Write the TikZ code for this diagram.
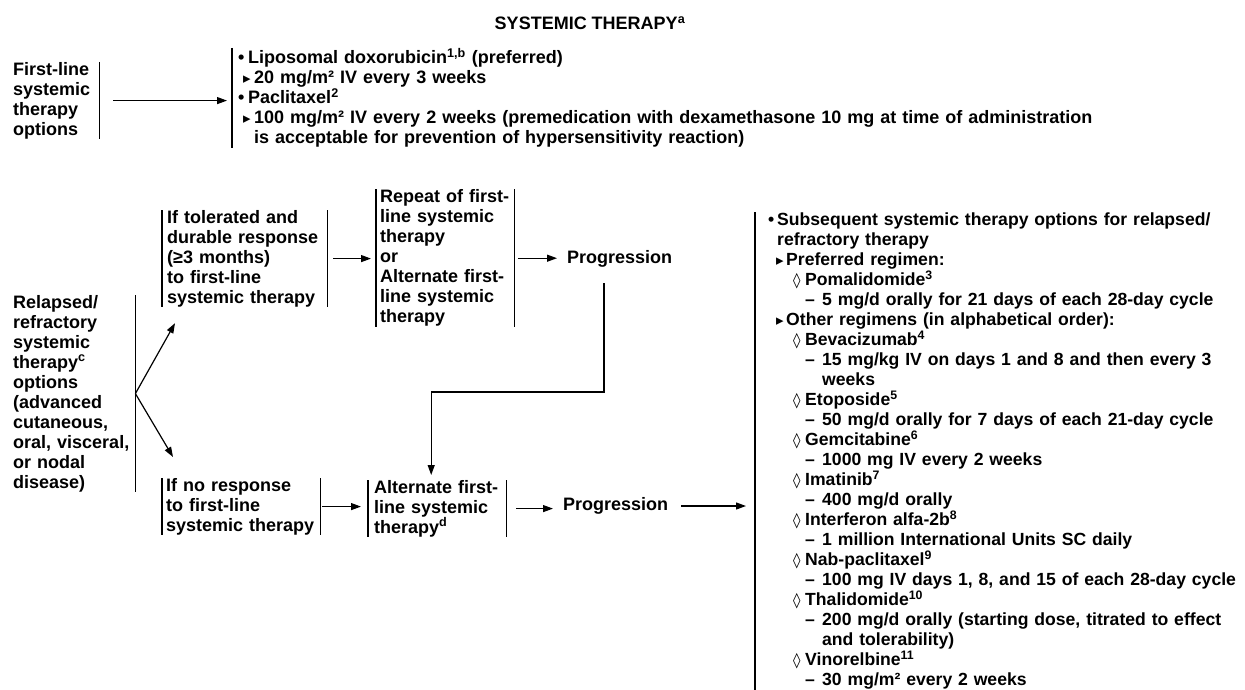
\documentclass[tikz,border=0pt]{standalone}
\usepackage{fontspec}
\setmainfont{Liberation Sans}
\newfontfamily\symfont{DejaVu Sans}
\usetikzlibrary{arrows.meta}

% list markers
\newcommand{\bul}{\hspace*{1pt}\makebox[10pt][l]{•}}
\newcommand{\bulr}{\makebox[9pt][l]{•}}
\newcommand{\tri}{\hspace*{6pt}\makebox[11pt][l]{\symfont\fontsize{15}{15}\selectfont ▸}}
\newcommand{\trii}{\hspace*{8pt}\makebox[10pt][l]{\symfont\fontsize{15}{15}\selectfont ▸}}
\newcommand{\dia}{\hspace*{25pt}\makebox[12pt][l]{\symfont\mdseries\fontsize{15}{15}\selectfont ◊}}
\newcommand{\dsh}{\hspace*{37pt}\makebox[17pt][l]{–}}

\tikzset{
  every node/.style={font=\bfseries\fontsize{18}{20}\selectfont},
  block/.style={anchor=north west, inner ysep=0pt, align=left, minimum height=#1},
  plain/.style={anchor=west, inner sep=0pt},
  bar/.style={line width=1.4pt},
  arr/.style={line width=1.2pt, -{Triangle[length=10pt,width=7pt]}}
}

\begin{document}
\begin{tikzpicture}[x=1pt,y=-1pt]
	\useasboundingbox (0,0) rectangle (1245,690);
	
	\node (title) at (590,23) {SYSTEMIC THERAPY\textsuperscript{a}};
	
	% first-line part
	\node[block=72, inner xsep=5pt, text width=81pt] (fl) at (8,62)
	{First-line\\systemic\\therapy\\options};
	\node[block=95, inner xsep=5pt, text width=900pt] (tl) at (232,48)
	{\bul Liposomal doxorubicin\textsuperscript{1,b} (preferred)\\
	\tri 20 mg/m² IV every 3 weeks\\
	\bul Paclitaxel\textsuperscript{2}\\
	\tri 100 mg/m² IV every 2 weeks (premedication with dexamethasone 10 mg at time of administration\\
	\hspace*{17pt}is acceptable for prevention of hypersensitivity reaction)};
	
	% relapsed part
	\node[block=190, inner xsep=5pt, text width=117pt] (rl) at (8,295)
	{Relapsed/\\refractory\\systemic\\therapy\textsuperscript{c}\\options\\(advanced\\cutaneous,\\oral, visceral,\\or nodal\\disease)};
	\node[block=96, inner xsep=5pt, text width=155pt] (it) at (162,210)
	{If tolerated and\\durable response\\(≥3 months)\\to first-line\\systemic therapy};
	\node[block=138, inner xsep=4pt, text width=130pt] (rp) at (376,189)
	{Repeat of first-\\line systemic\\therapy\\or\\Alternate first-\\line systemic\\therapy};
	\node[plain] (pg1) at (567,259) {Progression};
	\node[block=55, inner xsep=4pt, text width=150pt] (nr) at (162,478)
	{If no response\\to first-line\\systemic therapy};
	\node[block=52, inner xsep=6pt, text width=126pt] (al) at (368,480)
	{Alternate first-\\line systemic\\therapy\textsuperscript{d}};
	\node[plain] (pg2) at (563,506) {Progression};
	
	\node[block=478, inner xsep=13pt, text width=495pt,
	      font=\bfseries\fontsize{17.6}{20}\selectfont] (sl) at (755,212)
	{\bulr Subsequent systemic therapy options for relapsed/\\
	\hspace*{9pt}refractory therapy\\
	\trii Preferred regimen:\\
	\dia Pomalidomide\textsuperscript{3}\\
	\dsh 5 mg/d orally for 21 days of each 28-day cycle\\
	\trii Other regimens (in alphabetical order):\\
	\dia Bevacizumab\textsuperscript{4}\\
	\dsh 15 mg/kg IV on days 1 and 8 and then every 3\\
	\hspace*{54pt}weeks\\
	\dia Etoposide\textsuperscript{5}\\
	\dsh 50 mg/d orally for 7 days of each 21-day cycle\\
	\dia Gemcitabine\textsuperscript{6}\\
	\dsh 1000 mg IV every 2 weeks\\
	\dia Imatinib\textsuperscript{7}\\
	\dsh 400 mg/d orally\\
	\dia Interferon alfa-2b\textsuperscript{8}\\
	\dsh 1 million International Units SC daily\\
	\dia Nab-paclitaxel\textsuperscript{9}\\
	\dsh 100 mg IV days 1, 8, and 15 of each 28-day cycle\\
	\dia Thalidomide\textsuperscript{10}\\
	\dsh 200 mg/d orally (starting dose, titrated to effect\\
	\hspace*{54pt}and tolerability)\\
	\dia Vinorelbine\textsuperscript{11}\\
	\dsh 30 mg/m² every 2 weeks};
	
	% bars
	\draw[bar] (fl.north east) -- (fl.south east);
	\draw[bar] (tl.north west) -- (tl.south west);
	\draw[bar] (rl.north east) -- (rl.south east);
	\foreach \n in {it,rp,nr,al}{
		\draw[bar] (\n.north west) -- (\n.south west);
		\draw[bar] (\n.north east) -- (\n.south east);
	}
	\draw[bar] (sl.north west) -- (sl.south west);
	
	% connectors
	\draw[arr, shorten <=14pt, shorten >=5pt] (fl.east) -- (tl.west |- fl.east);
	\draw[arr] (rl.east) -- ([xshift=13pt,yshift=-16pt]it.south west);
	\draw[arr] (rl.east) -- ([xshift=11pt,yshift=21pt]nr.north west);
	\draw[arr, shorten <=6pt, shorten >=5pt] (it.east) -- (rp.west |- it.east);
	\draw[arr, shorten <=4pt, shorten >=10pt] (rp.east) -- (pg1.west |- rp.east);
	\coordinate (drop) at (604,283);
	\draw[arr, shorten >=5pt] (drop) -- ++(0,109) -| ([xshift=-6pt]al.north);
	\draw[arr, shorten <=2pt, shorten >=7pt] (nr.east) -- (al.west |- nr.east);
	\draw[arr, shorten <=10pt, shorten >=10pt] (al.east) -- (pg2.west |- al.east);
	\draw[arr, shorten <=13pt, shorten >=9pt] (pg2.east) -- (sl.west |- pg2.east);
\end{tikzpicture}
\end{document}
